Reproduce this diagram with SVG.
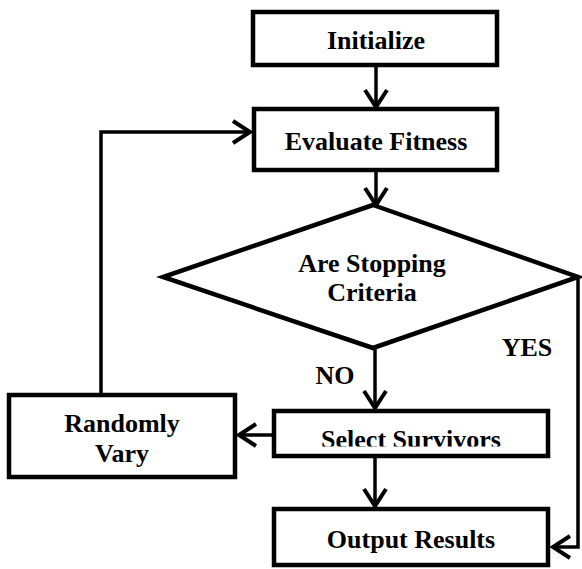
<svg xmlns="http://www.w3.org/2000/svg" width="582" height="569" viewBox="0 0 582 569">
<style>
.box{fill:#fff;stroke:#000;stroke-width:4.5}
.lbl{font-family:"Liberation Serif","Times New Roman",serif;font-weight:bold;font-size:26px;fill:#000;text-anchor:middle}
.conn{fill:none;stroke:#000;stroke-width:3.5;stroke-linejoin:miter}
</style>
<defs>
<marker id="arr" markerUnits="userSpaceOnUse" viewBox="0 0 24 28" markerWidth="24" markerHeight="28" refX="20" refY="14" orient="auto">
<path d="M3,3 L20,14 L3,25" fill="none" stroke="#000" stroke-width="4"/>
</marker>
<clipPath id="clipSel"><rect x="272" y="409" width="278" height="37.5"/></clipPath>
</defs>
<rect width="582" height="569" fill="#fff"/>
<g id="connectors">
<path class="conn" d="M376,67 V107" marker-end="url(#arr)"/>
<path class="conn" d="M376,172 V205" marker-end="url(#arr)"/>
<path class="conn" d="M375,348 V408" marker-end="url(#arr)"/>
<path class="conn" d="M272,435 H239" marker-end="url(#arr)"/>
<path class="conn" d="M375,458 V506" marker-end="url(#arr)"/>
<path class="conn" d="M101,393 V132 H250" marker-end="url(#arr)"/>
<path class="conn" d="M578,277 V547 H553" marker-end="url(#arr)"/>
<text class="lbl" x="335" y="384">NO</text>
<text class="lbl" x="527" y="356">YES</text>
</g>
<g id="initialize">
<rect class="box" x="253" y="12" width="244" height="53"/>
<text class="lbl" x="376" y="49">Initialize</text>
</g>
<g id="evaluate">
<rect class="box" x="254" y="109" width="243" height="61"/>
<text class="lbl" x="376" y="150">Evaluate Fitness</text>
</g>
<g id="decision">
<polygon class="box" points="373,205 578,277 373,348 163,277"/>
<text class="lbl" x="372" y="272">Are Stopping</text>
<text class="lbl" x="372" y="301">Criteria</text>
</g>
<g id="select">
<rect class="box" x="274" y="411" width="274" height="45"/>
<text class="lbl" x="411" y="448" clip-path="url(#clipSel)">Select Survivors</text>
</g>
<g id="vary">
<rect class="box" x="9" y="395" width="226" height="82"/>
<text class="lbl" x="122" y="432">Randomly</text>
<text class="lbl" x="122" y="462">Vary</text>
</g>
<g id="output">
<rect class="box" x="274" y="509" width="274" height="56"/>
<text class="lbl" x="411" y="548">Output Results</text>
</g>
</svg>
